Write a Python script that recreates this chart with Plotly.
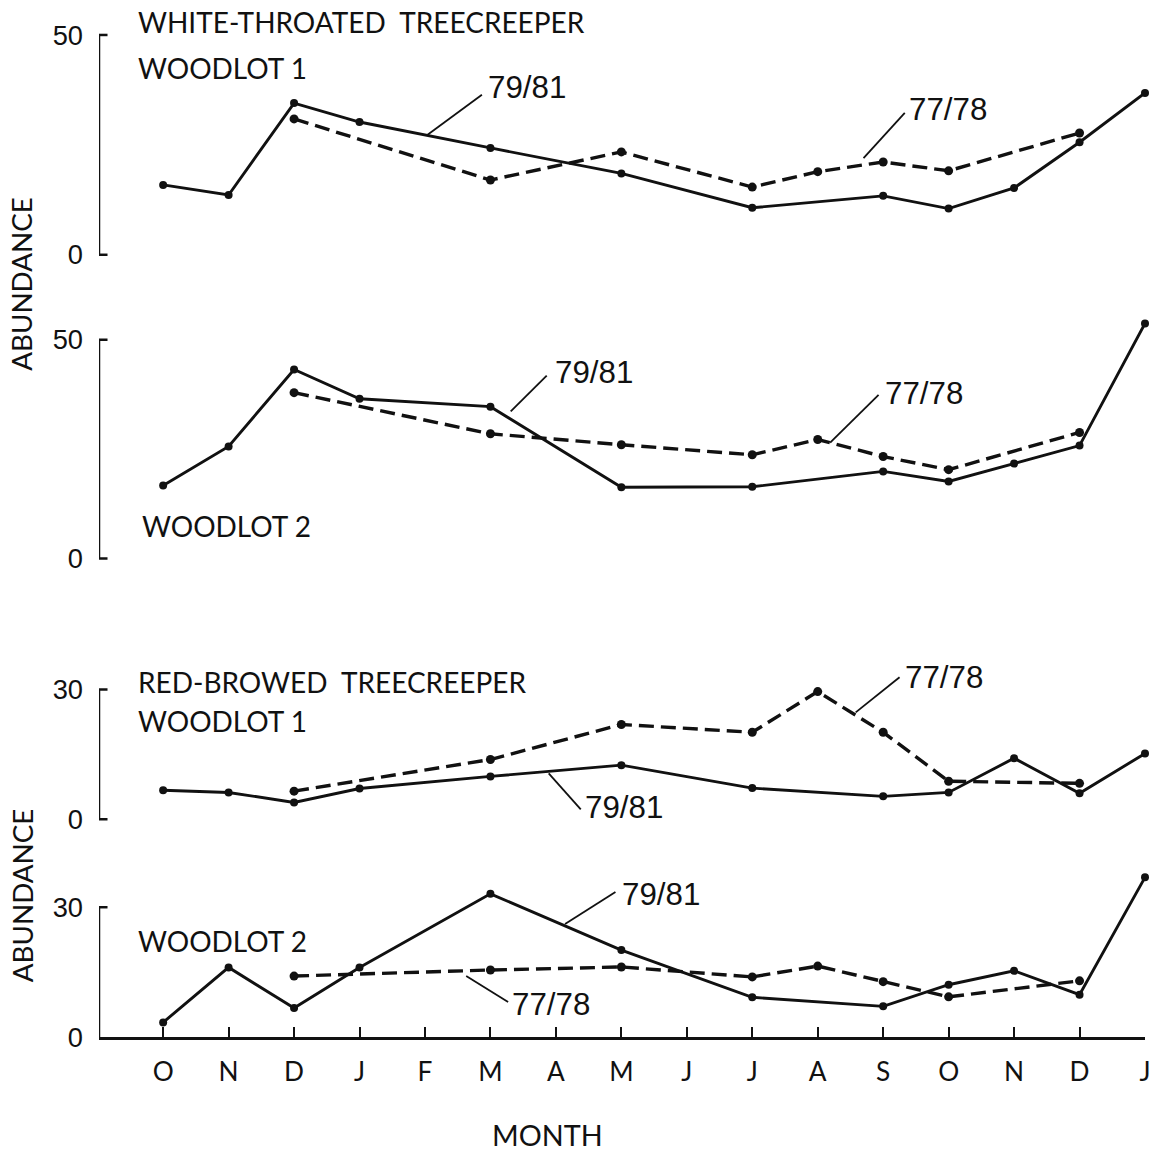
import plotly.graph_objects as go

# ---------------- data ----------------
MONTHS = ["O", "N", "D", "J", "F", "M", "A", "M", "J", "J", "A", "S", "O", "N", "D", "J"]
X_IDX = list(range(len(MONTHS)))

# White-throated treecreeper
WT1_7981 = [15.9, 13.6, 34.5, 30.2, None, 24.3, None, 18.5, None, 10.7, None, 13.4, 10.5, 15.2, 25.6, 36.8]
WT1_7778 = [None, None, 30.9, None, None, 17.0, None, 23.4, None, 15.4, 18.9, 21.1, 19.1, None, 27.7, None]
WT2_7981 = [16.7, 25.6, 43.2, 36.5, None, 34.7, None, 16.3, None, 16.4, None, 19.9, 17.6, 21.7, 25.8, 53.7]
WT2_7778 = [None, None, 37.9, None, None, 28.5, None, 26.0, None, 23.7, 27.2, 23.3, 20.3, None, 28.8, None]

# Red-browed treecreeper
RB1_7981 = [6.7, 6.2, 3.9, 7.1, None, 9.9, None, 12.5, None, 7.2, None, 5.3, 6.2, 14.1, 6.0, 15.2]
RB1_7778 = [None, None, 6.5, None, None, 13.8, None, 21.9, None, 20.1, 29.5, 20.1, 8.8, None, 8.3, None]
RB2_7981 = [3.4, 16.1, 6.7, 16.1, None, 33.1, None, 20.1, None, 9.2, None, 7.1, 12.1, 15.3, 9.8, 36.9]
RB2_7778 = [None, None, 14.1, None, None, 15.5, None, 16.2, None, 13.9, 16.4, 12.8, 9.3, None, 13.0, None]

Y_MAX = [50, 50, 30, 30]
Y_TICKS = [[0, 50], [0, 50], [0, 30], [0, 30]]

# ---------------- layout geometry ----------------
PIC_W, PIC_H = 1160, 1151      # target picture size
FIG_W, FIG_H = 1166, 1166      # rendered viewport size
FS = 1.01                      # font scale compensation

def px_x(p):
    return p / PIC_W

def px_y(p):
    return 1 - p / PIC_H

X_LO, X_HI = -0.98, 15
# (zero pixel row, pixels per unit, range)
PANELS = [
    (255, 4.40, [-3, 55]),
    (559, 4.38, [-3, 57]),
    (820, 4.333, [-3, 35]),
    (1038, 4.333, [0, 40]),
]

def domain(zero_px, ppu, rng):
    top = zero_px - rng[1] * ppu
    bot = zero_px - rng[0] * ppu
    return [max(0.0, px_y(bot)), min(1.0, px_y(top))]

BLACK = "#111111"
TXT_FONT = "Lato, 'Open Sans', sans-serif"
NUM_FONT = "'Liberation Sans', Arial, sans-serif"

fig = go.Figure()
series = [(WT1_7981, WT1_7778), (WT2_7981, WT2_7778), (RB1_7981, RB1_7778), (RB2_7981, RB2_7778)]
for i, (solid, dashed) in enumerate(series):
    yname = "y" if i == 0 else f"y{i+1}"
    fig.add_trace(go.Scatter(
        x=X_IDX, y=dashed, mode="lines+markers", connectgaps=True,
        line=dict(color=BLACK, width=3.4, dash="15px,7px"),
        marker=dict(color=BLACK, size=9), cliponaxis=False,
        xaxis="x", yaxis=yname, name="77/78", showlegend=False))
    fig.add_trace(go.Scatter(
        x=X_IDX, y=solid, mode="lines+markers", connectgaps=True,
        line=dict(color=BLACK, width=2.9),
        marker=dict(color=BLACK, size=8), cliponaxis=False,
        xaxis="x", yaxis=yname, name="79/81", showlegend=False))

layout = dict(
    width=FIG_W, height=FIG_H,
    margin=dict(l=0, r=0, t=0, b=0),
    paper_bgcolor="white", plot_bgcolor="white",
    showlegend=False,
    xaxis=dict(
        domain=[px_x(99), px_x(1145)], range=[X_LO, X_HI], anchor="y4",
        tickmode="array", tickvals=X_IDX, ticktext=MONTHS,
        ticks="inside", ticklen=10, tickwidth=2, tickcolor=BLACK,
        showline=True, linewidth=2.5, linecolor=BLACK,
        showgrid=False, zeroline=False,
        tickfont=dict(family=TXT_FONT, size=26 * FS, color=BLACK),
        ticklabelstandoff=10,
    ),
)
for i, (zero_px, ppu, rng) in enumerate(PANELS):
    key = "yaxis" if i == 0 else f"yaxis{i+1}"
    layout[key] = dict(
        domain=domain(zero_px, ppu, rng), range=rng, anchor="x",
        tickmode="array", tickvals=Y_TICKS[i], ticks="",
        showline=False, showgrid=False, zeroline=False,
        tickfont=dict(family=NUM_FONT, size=27 * FS, color=BLACK),
        ticklabelstandoff=15,
    )
fig.update_layout(**layout)

# y-axis brackets (0 .. max only)
shapes = []
for i in range(4):
    yref = "y" if i == 0 else f"y{i+1}"
    shapes.append(dict(type="line", xref="x", yref=yref, x0=X_LO, x1=X_LO, y0=0, y1=Y_MAX[i],
                       line=dict(color=BLACK, width=2.5)))
    shapes.append(dict(type="line", xref="x", yref=yref, x0=X_LO, x1=X_LO + 0.13, y0=Y_MAX[i], y1=Y_MAX[i],
                       line=dict(color=BLACK, width=2.5)))
    if i < 3:
        shapes.append(dict(type="line", xref="x", yref=yref, x0=X_LO, x1=X_LO + 0.13, y0=0, y1=0,
                           line=dict(color=BLACK, width=2.5)))

# leader lines: (panel, x0, y0, x1, y1)
LEADERS = [
    (0, 4.04, 27.3, 4.87, 36.4),
    (0, 10.70, 22.0, 11.33, 32.3),
    (1, 5.31, 33.6, 5.86, 41.8),
    (1, 10.19, 26.5, 10.93, 37.4),
    (2, 10.58, 24.7, 11.25, 32.8),
    (2, 5.89, 10.6, 6.38, 2.3),
    (3, 6.14, 26.1, 6.91, 33.5),
    (3, 4.63, 14.1, 5.27, 8.1),
]
for p, x0, y0, x1, y1 in LEADERS:
    yref = "y" if p == 0 else f"y{p+1}"
    shapes.append(dict(type="line", xref="x", yref=yref, x0=x0, y0=y0, x1=x1, y1=y1,
                       line=dict(color=BLACK, width=1.8)))
fig.update_layout(shapes=shapes)

# series labels: (panel, text, x, y)
SERIES_LABELS = [
    (0, "79/81", 4.93, 38.0),
    (0, "77/78", 11.36, 33.0),
    (1, "79/81", 5.95, 42.5),
    (1, "77/78", 11.0, 37.7),
    (2, "77/78", 11.31, 32.8),
    (2, "79/81", 6.41, 2.8),
    (3, "79/81", 6.98, 33.0),
    (3, "77/78", 5.30, 7.6),
]
annotations = []
for p, t, x, y in SERIES_LABELS:
    yref = "y" if p == 0 else f"y{p+1}"
    annotations.append(dict(text=t, xref="x", yref=yref, x=x, y=y, xanchor="left", yanchor="middle",
                            showarrow=False, font=dict(family=NUM_FONT, size=31 * FS, color=BLACK)))

# panel titles: (panel, text, x, y)
TITLES = [
    (0, "WHITE-THROATED  TREECREEPER", -0.42, 53.0),
    (0, "WOODLOT 1", -0.42, 42.4),
    (1, "WOODLOT 2", -0.36, 7.5),
    (2, "RED-BROWED  TREECREEPER", -0.42, 31.6),
    (2, "WOODLOT 1", -0.42, 22.6),
    (3, "WOODLOT 2", -0.41, 22.2),
]
for p, t, x, y in TITLES:
    yref = "y" if p == 0 else f"y{p+1}"
    annotations.append(dict(text=t, xref="x", yref=yref, x=x, y=y, xanchor="left", yanchor="middle",
                            showarrow=False, font=dict(family=TXT_FONT, size=28, color=BLACK)))

annotations.append(dict(text="MONTH", xref="paper", yref="paper", x=px_x(490), y=px_y(1136),
                        xanchor="left", yanchor="middle", showarrow=False,
                        font=dict(family=TXT_FONT, size=28.5 * FS, color=BLACK)))
for yc in (284, 896):
    annotations.append(dict(text="ABUNDANCE", xref="paper", yref="paper", x=px_x(22), y=px_y(yc),
                            xanchor="center", yanchor="middle", showarrow=False, textangle=-90,
                            font=dict(family=TXT_FONT, size=27.5 * FS, color=BLACK)))
fig.update_layout(annotations=annotations)

fig.write_html(
    "out.html",
    config={"displayModeBar": False},
    post_script="document.body.style.margin='0px';document.body.style.overflow='hidden';"
                "document.documentElement.style.overflow='hidden';",
)
